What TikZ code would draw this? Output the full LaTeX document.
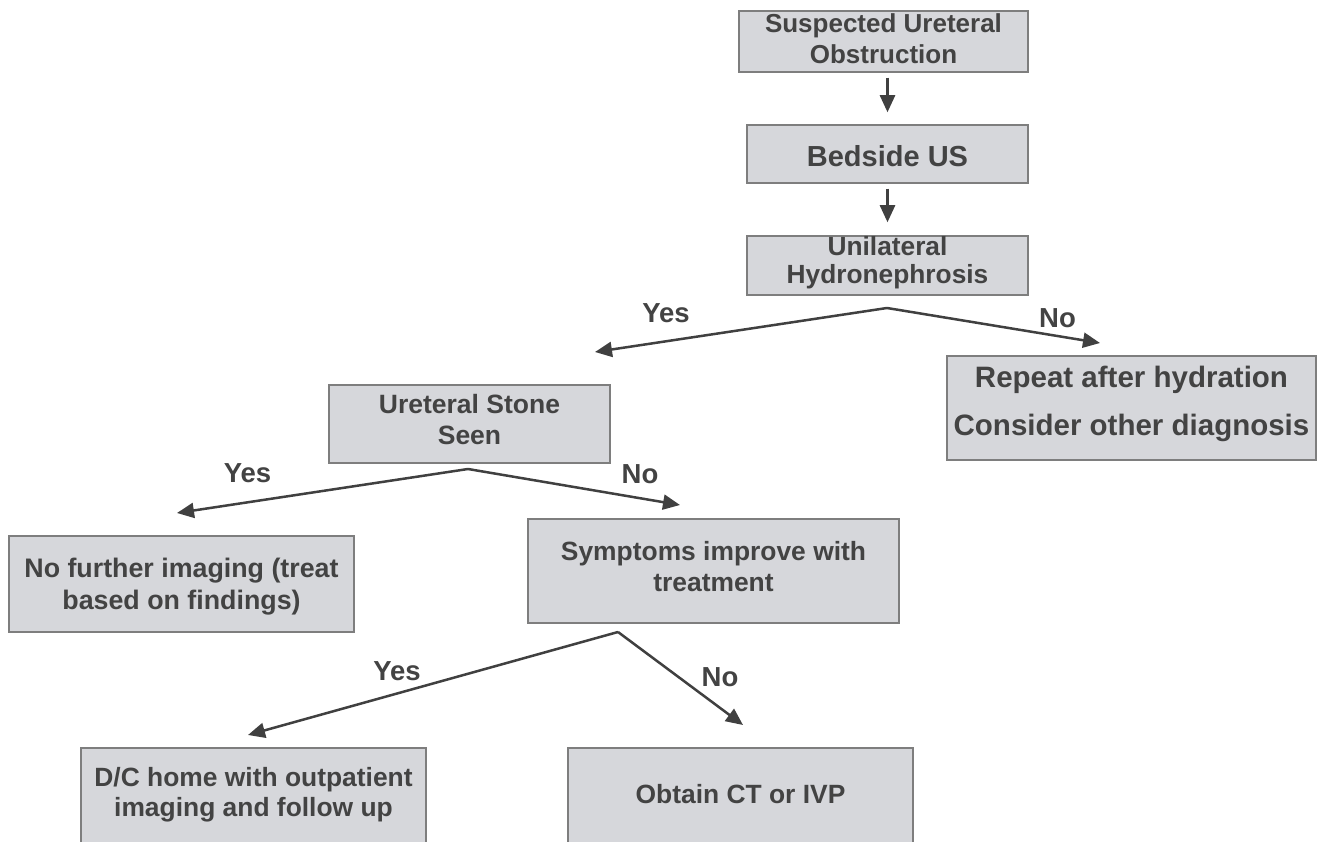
\documentclass[tikz,border=0pt]{standalone}
\usepackage{fontspec}
\setmainfont{Liberation Sans}
\usetikzlibrary{arrows.meta}
\definecolor{boxgray}{HTML}{D6D7DB}
\definecolor{bordergray}{HTML}{7E7E7E}
\definecolor{txtgray}{HTML}{434343}
\definecolor{arrgray}{HTML}{404040}
\newcommand{\twol}[2]{\begin{tabular}[t]{@{}c@{}}#1\\#2\end{tabular}}
\begin{document}
\begin{tikzpicture}[x=1pt,y=-1pt,
  box/.style={draw=bordergray, line width=1.5pt, fill=boxgray, inner sep=0pt, text=txtgray},
  lbl/.style={font=\fontsize{27.5}{30}\selectfont\bfseries, text=txtgray, inner sep=0pt, text height=19.7pt, text depth=0pt},
  arr/.style={draw=arrgray, line width=2.5pt, -{Triangle[length=17pt,width=15pt]}}]
\useasboundingbox (0,0) rectangle (1320,842);
\fill[white] (0,0) rectangle (1320,842);
\clip (0,0) rectangle (1320,842);

% boxes
\node[box, minimum width=289pt, minimum height=61pt, font=\fontsize{26}{31}\selectfont\bfseries, text height=18.6pt, text depth=35.6pt] (b1) at (883.5,41.5) {\twol{Suspected Ureteral}{Obstruction}};
\node[box, minimum width=281pt, minimum height=58pt, font=\fontsize{29}{34}\selectfont\bfseries, text height=24.8pt, text depth=0pt] (b2) at (887.5,154) {Bedside US};
\node[box, minimum width=281pt, minimum height=59pt, font=\fontsize{26.3}{28}\selectfont\bfseries, text height=18.8pt, text depth=39pt] (b3) at (887.5,265.5) {\twol{Unilateral}{Hydronephrosis}};
\node[box, minimum width=369pt, minimum height=104pt, font=\fontsize{29.5}{48}\selectfont\bfseries, text height=21.1pt, text depth=63pt] (rep) at (1131.5,408) {\twol{Repeat after hydration}{Consider other diagnosis}};
\node[box, minimum width=281pt, minimum height=78pt, font=\fontsize{26.5}{31}\selectfont\bfseries, text height=19pt, text depth=41pt] (us) at (469.5,424) {\twol{Ureteral Stone}{Seen}};
\node[box, minimum width=345pt, minimum height=96pt, font=\fontsize{26.8}{32}\selectfont\bfseries, text height=19.2pt, text depth=32pt] (nf) at (181.5,584) {\twol{No further imaging (treat}{based on findings)}};
\node[box, minimum width=371pt, minimum height=104pt, font=\fontsize{26.4}{31}\selectfont\bfseries, text height=18.9pt, text depth=39pt] (sym) at (713.5,571) {\twol{Symptoms improve with}{treatment}};
\node[box, minimum width=345pt, minimum height=97pt, font=\fontsize{26.4}{30}\selectfont\bfseries, text height=18.9pt, text depth=38pt] (dc) at (253.5,796.5) {\twol{D/C home with outpatient}{imaging and follow up}};
\node[box, minimum width=345pt, minimum height=97pt, font=\fontsize{26.4}{30}\selectfont\bfseries, text height=18.9pt, text depth=4pt] (ob) at (740.5,796.5) {Obtain CT or IVP};

% vertical arrows
\draw[arr, shorten <=5pt, shorten >=12pt] (b1.south -| b2.north) -- (b2.north);
\draw[arr, shorten <=5pt, shorten >=13pt] (b2.south) -- (b3.north);

% fork 1
\coordinate (ap1) at (887,308);
\coordinate (t1y) at (595,352);
\coordinate (t1n) at (1100,343);
\draw[arr] (ap1) -- (t1y);
\draw[arr] (ap1) -- (t1n);
\node[lbl] (y1) at (666,312.5) {Yes};
\node[lbl] (n1) at (1057.5,317.5) {No};

% fork 2
\coordinate (ap2) at (468,469);
\coordinate (t2y) at (177,513);
\coordinate (t2n) at (680,505);
\draw[arr] (ap2) -- (t2y);
\draw[arr] (ap2) -- (t2n);
\node[lbl] (y2) at (247.5,473) {Yes};
\node[lbl] (n2) at (640,473.5) {No};

% fork 3
\coordinate (ap3) at (618,632);
\coordinate (t3y) at (248,735);
\coordinate (t3n) at (743,725);
\draw[arr] (ap3) -- (t3y);
\draw[arr] (ap3) -- (t3n);
\node[lbl] (y3) at (397,671) {Yes};
\node[lbl] (n3) at (720,677) {No};
\end{tikzpicture}
\end{document}
